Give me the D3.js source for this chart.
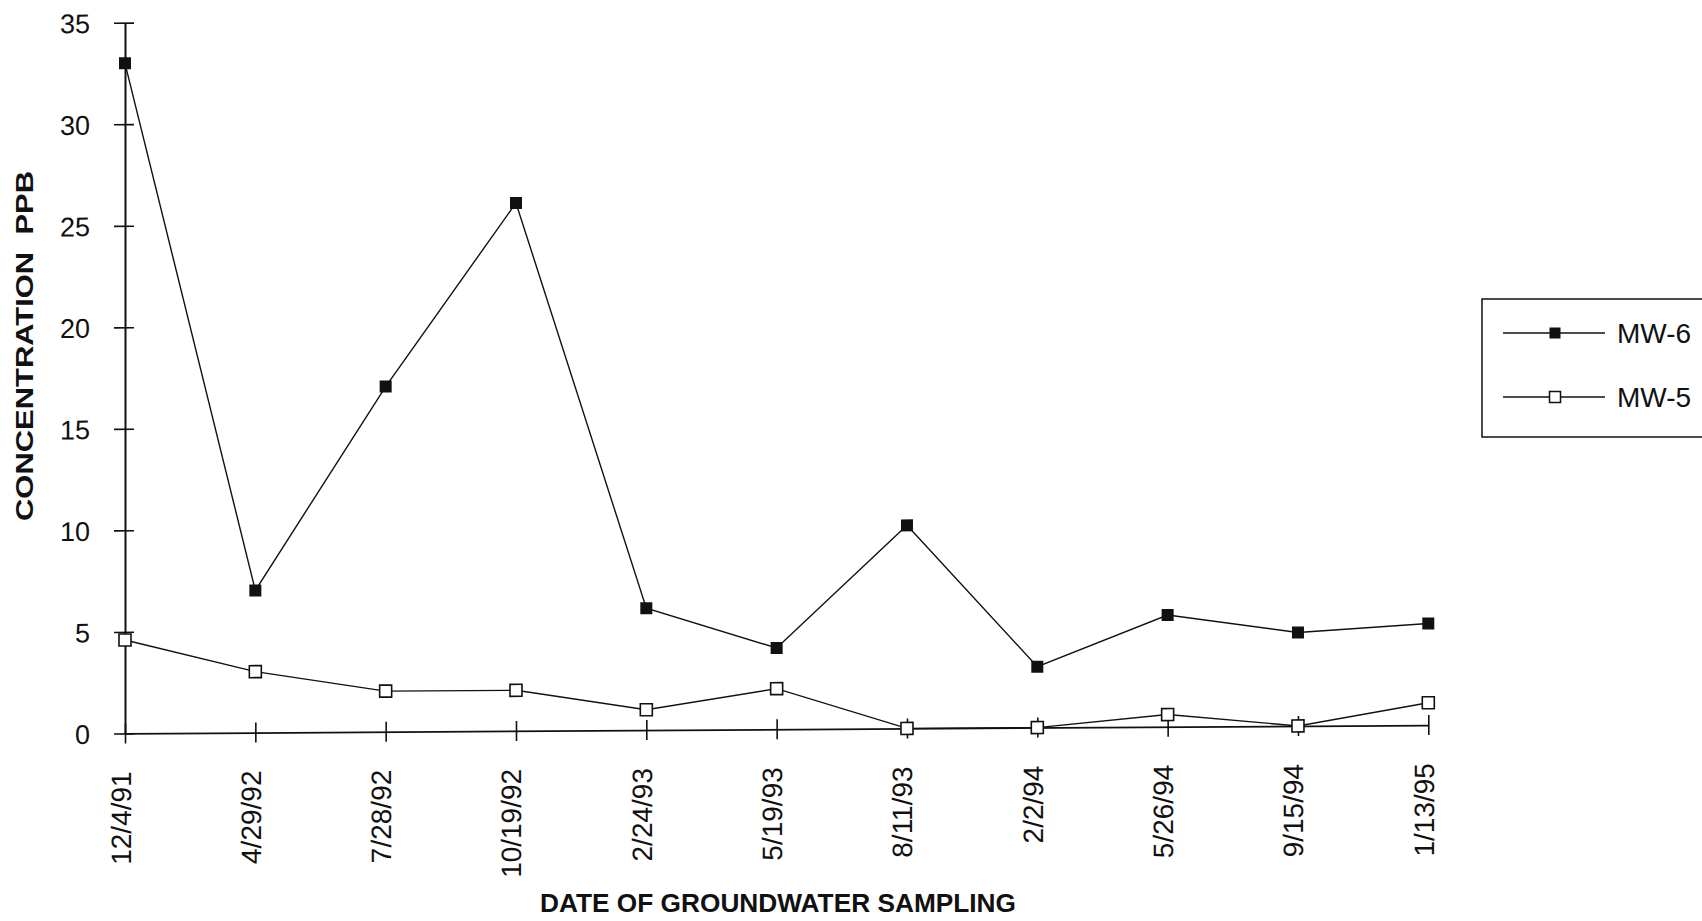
<!DOCTYPE html>
<html>
<head>
<meta charset="utf-8">
<script src="https://cdn.jsdelivr.net/npm/d3@7"></script>
<style>
  html, body { margin: 0; padding: 0; background: #fff; }
  svg { display: block; }
  text { font-family: "Liberation Sans", Arial, Helvetica, sans-serif; fill: #111; }
</style>
</head>
<body>
<svg id="chart" width="1702" height="921"></svg>
<script>
// Sampling dates (x categories)
const dates = ["12/4/91", "4/29/92", "7/28/92", "10/19/92", "2/24/93", "5/19/93",
               "8/11/93", "2/2/94", "5/26/94", "9/15/94", "1/13/95"];
// Concentrations in ppb
const mw6 = [33, 7, 17, 26, 6, 4, 10, 3, 5.5, 4.6, 5];
const mw5 = [4.6, 3, 2, 2, 1, 2, 0, 0, 0.6, 0, 1.1];
// Y tick values
const yTicks = [0, 5, 10, 15, 20, 25, 30, 35];
const seriesNames = ["MW-6", "MW-5"];

const svg = d3.select("#chart");
svg.append("rect").attr("width", 1702).attr("height", 921).attr("fill", "#fff");

const x0 = 125, x1 = 1428.3, yBase = 733.4, yTop = 22.7;
const x = d3.scalePoint().domain(dates).range([x0, x1]);
const y = d3.scaleLinear().domain([0, 35]).range([yBase, yTop]);

// plot area sits on a slight tilt, as on the printed sheet
const plot = svg.append("g")
  .attr("transform", `translate(${x0},0) skewY(-0.365) translate(${-x0},0)`);

// Y axis
const yAxis = plot.append("g")
  .attr("transform", `translate(${x0},0)`)
  .call(d3.axisLeft(y).tickValues(yTicks).tickSize(0).tickPadding(0));
yAxis.select(".domain").attr("stroke", "#111").attr("stroke-width", 2);
yAxis.selectAll(".tick line")
  .attr("x1", -11).attr("x2", 9).attr("stroke", "#111").attr("stroke-width", 1.6);
yAxis.selectAll(".tick text")
  .attr("x", -35).attr("dy", "0.36em")
  .attr("font-size", 27).style("text-anchor", "end");

// X axis
const xAxis = plot.append("g")
  .attr("transform", `translate(0,${yBase})`)
  .call(d3.axisBottom(x).tickSize(0).tickPadding(0));
xAxis.select(".domain").attr("stroke", "#111").attr("stroke-width", 1.8);
xAxis.selectAll(".tick line")
  .attr("y1", -10).attr("y2", 10).attr("stroke", "#111").attr("stroke-width", 1.6);
xAxis.selectAll(".tick text")
  .attr("font-size", 28)
  .attr("dy", 0).attr("y", 0)
  .attr("transform", "translate(5,38) rotate(-90)")
  .style("text-anchor", "end");

// Series lines
const line = d3.line().x((d, i) => x(dates[i])).y(d => y(d));

plot.append("path").datum(mw5)
  .attr("d", line).attr("fill", "none").attr("stroke", "#111").attr("stroke-width", 1.4);
plot.append("path").datum(mw6)
  .attr("d", line).attr("fill", "none").attr("stroke", "#111").attr("stroke-width", 1.4);

// Markers
const ms = 12;
plot.append("g").selectAll("rect").data(mw5).join("rect")
  .attr("x", (d, i) => x(dates[i]) - ms / 2)
  .attr("y", d => y(d) - ms / 2)
  .attr("width", ms).attr("height", ms)
  .attr("fill", "#fff").attr("stroke", "#111").attr("stroke-width", 1.6);
plot.append("g").selectAll("rect").data(mw6).join("rect")
  .attr("x", (d, i) => x(dates[i]) - ms / 2)
  .attr("y", d => y(d) - ms / 2)
  .attr("width", ms).attr("height", ms)
  .attr("fill", "#111");

// Axis titles
svg.append("text")
  .attr("transform", "translate(33,346) rotate(-90)")
  .attr("text-anchor", "middle")
  .attr("font-size", 23).attr("font-weight", "bold")
  .attr("textLength", 350).attr("lengthAdjust", "spacingAndGlyphs")
  .style("white-space", "pre")
  .text("CONCENTRATION  PPB");

svg.append("text")
  .attr("x", 778).attr("y", 912)
  .attr("text-anchor", "middle")
  .attr("font-size", 25).attr("font-weight", "bold")
  .attr("textLength", 476).attr("lengthAdjust", "spacingAndGlyphs")
  .text("DATE OF GROUNDWATER SAMPLING");

// Legend
const legend = svg.append("g");
legend.append("rect")
  .attr("x", 1482).attr("y", 299).attr("width", 240).attr("height", 138)
  .attr("fill", "#fff").attr("stroke", "#111").attr("stroke-width", 1.5);
const legRows = [
  { name: seriesNames[0], y: 333, filled: true },
  { name: seriesNames[1], y: 397, filled: false }
];
legRows.forEach(r => {
  legend.append("line")
    .attr("x1", 1503).attr("x2", 1605).attr("y1", r.y).attr("y2", r.y)
    .attr("stroke", "#111").attr("stroke-width", 1.4);
  legend.append("rect")
    .attr("x", 1555 - 5.5).attr("y", r.y - 5.5).attr("width", 11).attr("height", 11)
    .attr("fill", r.filled ? "#111" : "#fff")
    .attr("stroke", "#111").attr("stroke-width", r.filled ? 0 : 1.5);
  legend.append("text")
    .attr("x", 1617).attr("y", r.y).attr("dy", "0.36em")
    .attr("font-size", 28)
    .text(r.name);
});
</script>
</body>
</html>
